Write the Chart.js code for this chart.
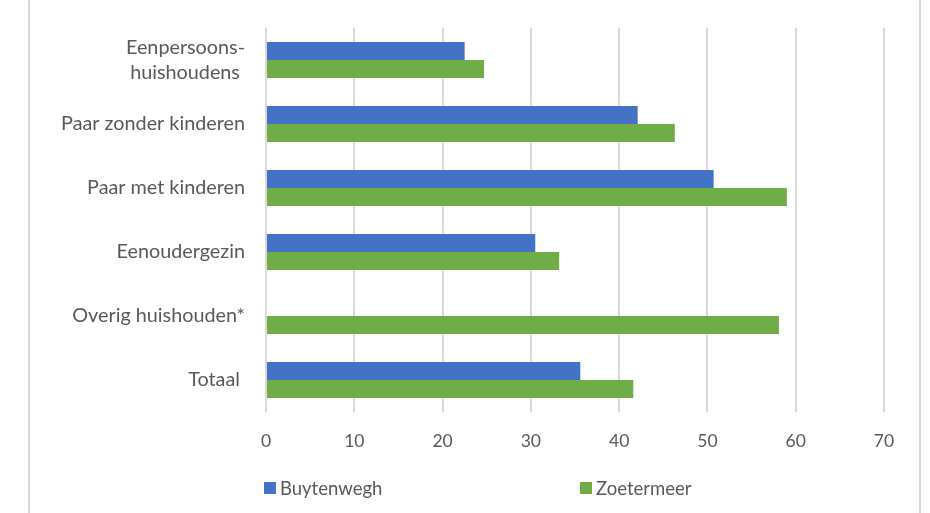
<!DOCTYPE html>
<html>
<head>
<meta charset="utf-8">
<script src="https://cdn.jsdelivr.net/npm/chart.js@4.4.1/dist/chart.umd.min.js"></script>
<style>
  html, body { margin: 0; padding: 0; background: #ffffff; overflow: hidden; }
  #frame { position: absolute; left: 28px; top: -10px; width: 889px; height: 540px;
           border-left: 2px solid #d9d9d9; border-right: 2px solid #d9d9d9; }
  #wrap { position: absolute; left: 0; top: 0; width: 930px; height: 513px; }
</style>
</head>
<body>
<div id="frame"></div>
<div id="wrap"><canvas id="c" width="930" height="513"></canvas></div>
<script>
const categories = [
  ["Eenpersoons-", "huishoudens "],
  "Paar zonder kinderen",
  "Paar met kinderen",
  "Eenoudergezin",
  "Overig huishouden*",
  "Totaal "
];
const buytenwegh = [22.5, 42.1, 50.7, 30.5, null, 35.6];
const zoetermeer = [24.7, 46.3, 59.0, 33.2, 58.1, 41.6];
const xTicks = [0, 10, 20, 30, 40, 50, 60, 70];
const seriesNames = ["Buytenwegh", "Zoetermeer"];

const FONT = "Lato, 'Open Sans', 'Liberation Sans', sans-serif";
const GRAY = "#595959";

const legendPlugin = {
  id: "excelLegend",
  afterDraw(chart) {
    const ctx = chart.ctx;
    const a = chart.chartArea;
    const offsets = [-2, 314];
    ctx.save();
    ctx.font = "18.5px " + FONT;
    ctx.textBaseline = "middle";
    ctx.textAlign = "left";
    chart.data.datasets.forEach((ds, i) => {
      const x = a.left + offsets[i];
      const y = 488;
      ctx.fillStyle = ds.backgroundColor;
      ctx.fillRect(x, y - 6, 12, 12);
      ctx.fillStyle = GRAY;
      ctx.fillText(ds.label, x + 16, y + 1);
    });
    ctx.restore();
  }
};

new Chart(document.getElementById("c"), {
  type: "bar",
  data: {
    labels: categories,
    datasets: [
      { label: seriesNames[0], data: buytenwegh, backgroundColor: "#4472C4" },
      { label: seriesNames[1], data: zoetermeer, backgroundColor: "#70AD47" }
    ]
  },
  options: {
    indexAxis: "y",
    responsive: false,
    animation: false,
    devicePixelRatio: 1,
    layout: { padding: { top: 28, right: 46, left: 0, bottom: 0 } },
    datasets: { bar: { categoryPercentage: 0.5625, barPercentage: 1.0 } },
    plugins: { legend: { display: false }, tooltip: { enabled: false }, title: { display: false } },
    scales: {
      x: {
        min: 0, max: 70,
        afterBuildTicks(scale) { scale.ticks = xTicks.map(v => ({ value: v })); },
        afterFit(scale) { scale.height = 101; scale.paddingLeft = 0; scale.paddingRight = 0; },
        grid: { color: "#d9d9d9", lineWidth: 2, drawTicks: false },
        border: { display: false },
        ticks: { color: GRAY, font: { family: FONT, size: 17.5 }, padding: 19 }
      },
      y: {
        afterFit(scale) { scale.width = 266; scale.paddingTop = 0; scale.paddingBottom = 0; },
        grid: { display: false, drawTicks: false },
        border: { display: false },
        ticks: { color: GRAY, font: { family: FONT, size: 19.8, lineHeight: 1.26 }, padding: 21 }
      }
    }
  },
  plugins: [legendPlugin]
});
</script>
</body>
</html>
